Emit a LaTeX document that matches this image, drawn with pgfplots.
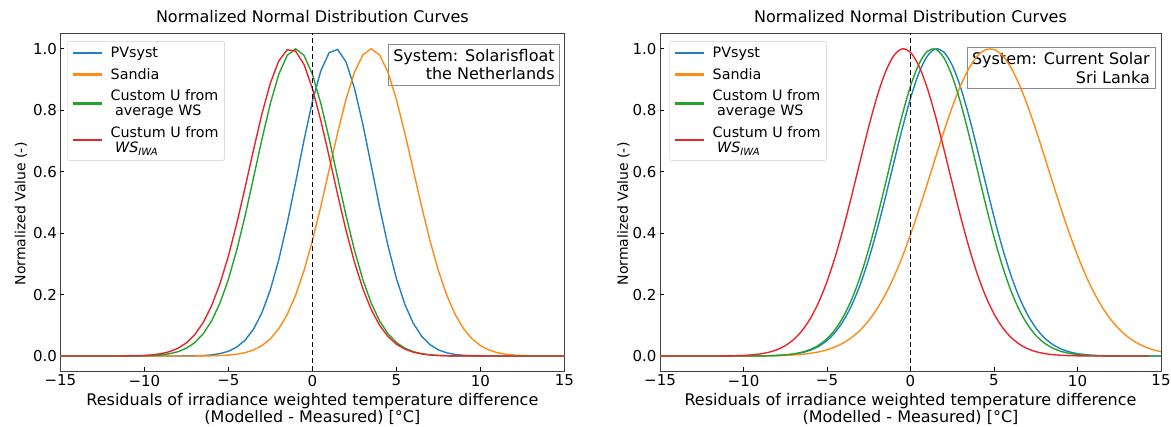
\documentclass[border=0pt]{standalone}
\usepackage{fontspec}
\setmainfont{DejaVu Sans}
\usepackage{pgfplots}
\pgfplotsset{compat=1.18}

\definecolor{cblue}{HTML}{1F80C4}
\definecolor{corange}{HTML}{FF8A14}
\definecolor{cgreen}{HTML}{22A32E}
\definecolor{cred}{HTML}{E8262A}

\pgfplotsset{
  mystyle/.style={
    scale only axis, height=338bp,
    xmin=-15, xmax=15, ymin=-0.05, ymax=1.05,
    axis line style={black!75, line width=0.8bp},
    tick align=inside, xtick pos=bottom, ytick pos=left,
    major tick length=4bp,
    tick style={black, line width=0.8bp},
    xtick={-15,-10,-5,0,5,10,15},
    xticklabels={−15,−10,−5,0,5,10,15},
    ytick={0,0.2,0.4,0.6,0.8,1.0},
    yticklabels={0.0,0.2,0.4,0.6,0.8,1.0},
    ticklabel style={font=\fontsize{15bp}{18bp}\selectfont},
    title={Normalized Normal Distribution Curves},
    title style={font=\fontsize{16bp}{19bp}\selectfont, at={(axis description cs:0.5,1)}, anchor=base, yshift=5bp},
    xlabel={Residuals of irradiance weighted temperature difference\\(Modelled - Measured) [°C]},
    xlabel style={font=\fontsize{16bp}{17bp}\selectfont, align=center, at={(axis description cs:0.5,0)}, anchor=north, yshift=-18bp},
    ylabel={Normalized Value (-)},
    legend style={draw=black!20, rounded corners=2bp, fill=white,
      font=\fontsize{14.3bp}{15.5bp}\selectfont,
      cells={anchor=west, align=left}, anchor=north west,
      inner xsep=4bp, inner ysep=4bp, row sep=5bp, column sep=6bp},
    legend image code/.code={\draw[#1, line width=2.2bp] (0bp,0bp) -- (29bp,0bp);},
  }
}

\begin{document}
\begin{tikzpicture}
\begin{axis}[mystyle, width=504bp, at={(0bp,0bp)}, anchor=south west,
  ylabel style={font=\fontsize{14bp}{17bp}\selectfont, at={(axis description cs:-0.078,0.466)}, anchor=center},
  legend style={at={(axis description cs:0.0137,0.977)}}]
\node[draw=black!45, fill=white, align=right, font=\fontsize{16bp}{18.3bp}\selectfont, anchor=north east, inner sep=5bp] at (rel axis cs:0.991,0.968) {System: Solarisfloat\\the Netherlands};
\addplot[cblue, line width=1.4bp] coordinates {(-15,0) (-7.5,0.0003) (-7,0.00075) (-6.5,0.0017) (-6,0.0038) (-5.5,0.0079) (-5,0.0155) (-4.5,0.0292) (-4,0.0520) (-3.5,0.0880) (-3,0.1416) (-2.5,0.2163) (-2,0.3137) (-1.5,0.4321) (-1,0.5652) (-0.5,0.7022) (0,0.8284) (0.5,0.9281) (1,0.9874) (1.5,0.9977) (2,0.9573) (2.5,0.8723) (3,0.7549) (3.5,0.6204) (4,0.4841) (4.5,0.3588) (5,0.2525) (5.5,0.1688) (6,0.1071) (6.5,0.0646) (7,0.0370) (7.5,0.0201) (8,0.0104) (8.5,0.0051) (9,0.0024) (9.5,0.0011) (10,0.0004) (15,0)};
\addlegendentry{PVsyst}
\addplot[corange, line width=1.4bp] coordinates {(-15,0) (-6.5,0.0003) (-6,0.0007) (-5.5,0.0015) (-5,0.0031) (-4.5,0.0060) (-4,0.0111) (-3.5,0.0198) (-3,0.0341) (-2.5,0.0561) (-2,0.0889) (-1.5,0.1353) (-1,0.1979) (-0.5,0.2780) (0,0.3753) (0.5,0.4868) (1,0.6065) (1.5,0.7261) (2,0.8353) (2.5,0.9231) (3,0.9802) (3.5,1.0) (4,0.9802) (4.5,0.9231) (5,0.8353) (5.5,0.7261) (6,0.6065) (6.5,0.4868) (7,0.3753) (7.5,0.2780) (8,0.1979) (8.5,0.1353) (9,0.0889) (9.5,0.0561) (10,0.0341) (10.5,0.0198) (11,0.0111) (11.5,0.0060) (12,0.0031) (12.5,0.0015) (13,0.0007) (13.5,0.0003) (15,0)};
\addlegendentry{Sandia}
\addplot[cgreen, line width=1.4bp] coordinates {(-15,0) (-11,0.0002) (-10.5,0.0004) (-10,0.0009) (-9.5,0.0019) (-9,0.0039) (-8.5,0.0076) (-8,0.0142) (-7.5,0.0255) (-7,0.0439) (-6.5,0.0724) (-6,0.1142) (-5.5,0.1724) (-5,0.2494) (-4.5,0.3453) (-4,0.4578) (-3.5,0.5813) (-3,0.7066) (-2.5,0.8226) (-2,0.9169) (-1.5,0.9785) (-1,1.0) (-0.5,0.9785) (0,0.9169) (0.5,0.8226) (1,0.7066) (1.5,0.5813) (2,0.4578) (2.5,0.3453) (3,0.2494) (3.5,0.1724) (4,0.1142) (4.5,0.0724) (5,0.0439) (5.5,0.0255) (6,0.0142) (6.5,0.0076) (7,0.0039) (7.5,0.0019) (8,0.0009) (8.5,0.0004) (9,0.0002) (15,0)};
\addlegendentry{Custom U from\\\hspace{4.5bp}average WS}
\addplot[cred, line width=1.4bp] coordinates {(-15,0) (-11.5,0.0002) (-11,0.0004) (-10.5,0.0010) (-10,0.0020) (-9.5,0.0040) (-9,0.0078) (-8.5,0.0143) (-8,0.0252) (-7.5,0.0428) (-7,0.0698) (-6.5,0.1090) (-6,0.1635) (-5.5,0.2355) (-5,0.3256) (-4.5,0.4320) (-4,0.5502) (-3.5,0.6725) (-3,0.7891) (-2.5,0.8887) (-2,0.9606) (-1.5,0.9967) (-1,0.9926) (-0.5,0.9489) (0,0.8706) (0.5,0.7667) (1,0.6482) (1.5,0.5259) (2,0.4096) (2.5,0.3062) (3,0.2197) (3.5,0.1513) (4,0.1000) (4.5,0.0635) (5,0.0386) (5.5,0.0226) (6,0.0127) (6.5,0.0068) (7,0.0035) (7.5,0.0018) (8,0.0008) (8.5,0.0004) (15,0)};
\addlegendentry{Custum U from\\\hspace{4.5bp}\textit{WS}\textsubscript{\textit{IWA}}}
\addplot[black, line width=1.5bp, dash pattern=on 5bp off 3bp, forget plot] coordinates {(0,-0.05) (0,1.05)};
\end{axis}

\begin{axis}[mystyle, width=501bp, at={(599.6bp,0bp)}, anchor=south west,
  ylabel style={font=\fontsize{14bp}{17bp}\selectfont, at={(axis description cs:-0.073,0.466)}, anchor=center},
  legend style={at={(axis description cs:0.0186,0.977)}}]
\node[draw=black!45, fill=white, align=right, font=\fontsize{16bp}{18.3bp}\selectfont, anchor=north east, inner sep=5bp] at (rel axis cs:0.988,0.9586) {System: Current Solar\\Sri Lanka};
\addplot[cblue, line width=1.4bp, smooth] coordinates {(-15,0) (-12,0) (-10,0.0001) (-9,0.0005) (-8.5,0.0009) (-8,0.0018) (-7.5,0.0034) (-7,0.0063) (-6.5,0.0111) (-6,0.0190) (-5.5,0.0315) (-5,0.0504) (-4.5,0.0779) (-4,0.1164) (-3.5,0.1680) (-3,0.2343) (-2.5,0.3157) (-2,0.4111) (-1.5,0.5173) (-1,0.6290) (-0.5,0.7390) (0,0.8390) (0.5,0.9204) (1,0.9756) (1.5,0.9993) (2,0.9891) (2.5,0.9460) (3,0.8742) (3.5,0.7807) (4,0.6736) (4.5,0.5617) (5,0.4525) (5.5,0.3523) (6,0.2651) (6.5,0.1927) (7,0.1353) (7.5,0.0919) (8,0.0602) (8.5,0.0382) (9,0.0234) (9.5,0.0138) (10,0.0079) (10.5,0.0044) (11,0.0023) (11.5,0.0012) (12,0.0006) (12.5,0.0003) (14,0) (15,0)};
\addlegendentry{PVsyst}
\addplot[corange, line width=1.4bp, smooth] coordinates {(-15,0) (-12,0) (-10,0.0001) (-9.5,0.0002) (-9,0.0004) (-8.5,0.0008) (-8,0.0013) (-7.5,0.0021) (-7,0.0035) (-6.5,0.0056) (-6,0.0088) (-5.5,0.0135) (-5,0.0203) (-4.5,0.0300) (-4,0.0433) (-3.5,0.0613) (-3,0.0851) (-2.5,0.1157) (-2,0.1540) (-1.5,0.2009) (-1,0.2569) (-0.5,0.3218) (0,0.3951) (0.5,0.4751) (1,0.5598) (1.5,0.6463) (2,0.7311) (2.5,0.8103) (3,0.8800) (3.5,0.9363) (4,0.9761) (4.5,0.9970) (5,0.9978) (5.5,0.9785) (6,0.9401) (6.5,0.8850) (7,0.8163) (7.5,0.7377) (8,0.6533) (8.5,0.5667) (9,0.4818) (9.5,0.4012) (10,0.3275) (10.5,0.2618) (11,0.2051) (11.5,0.1574) (12,0.1184) (12.5,0.0873) (13,0.0630) (13.5,0.0446) (14,0.0309) (14.5,0.0210) (15,0.0140)};
\addlegendentry{Sandia}
\addplot[cgreen, line width=1.4bp, smooth] coordinates {(-15,0) (-12,0) (-10,0.0001) (-9,0.0005) (-8.5,0.0010) (-8,0.0020) (-7.5,0.0038) (-7,0.0070) (-6.5,0.0124) (-6,0.0214) (-5.5,0.0354) (-5,0.0566) (-4.5,0.0874) (-4,0.1303) (-3.5,0.1873) (-3,0.2600) (-2.5,0.3482) (-2,0.4498) (-1.5,0.5608) (-1,0.6749) (-0.5,0.7837) (0,0.8783) (0.5,0.9499) (1,0.9913) (1.5,0.9984) (2,0.9704) (2.5,0.9101) (3,0.8238) (3.5,0.7196) (4,0.6065) (4.5,0.4934) (5,0.3873) (5.5,0.2934) (6,0.2145) (6.5,0.1513) (7,0.1030) (7.5,0.0677) (8,0.0429) (8.5,0.0263) (9,0.0155) (9.5,0.0088) (10,0.0049) (10.5,0.0026) (11,0.0013) (11.5,0.0007) (12,0.0003) (13.5,0) (15,0)};
\addlegendentry{Custom U from\\\hspace{4.5bp}average WS}
\addplot[cred, line width=1.4bp, smooth] coordinates {(-15,0) (-12.5,0) (-11.5,0.0002) (-11,0.0005) (-10.5,0.0010) (-10,0.0020) (-9.5,0.0038) (-9,0.0069) (-8.5,0.0121) (-8,0.0206) (-7.5,0.0338) (-7,0.0537) (-6.5,0.0823) (-6,0.1220) (-5.5,0.1748) (-5,0.2424) (-4.5,0.3247) (-4,0.4206) (-3.5,0.5268) (-3,0.6378) (-2.5,0.7466) (-2,0.8448) (-1.5,0.9242) (-1,0.9775) (-0.5,0.9996) (0,0.9882) (0.5,0.9444) (1,0.8726) (1.5,0.7795) (2,0.6732) (2.5,0.5621) (3,0.4537) (3.5,0.3541) (4,0.2671) (4.5,0.1948) (5,0.1374) (5.5,0.0937) (6,0.0617) (6.5,0.0393) (7,0.0242) (7.5,0.0144) (8,0.0083) (8.5,0.0046) (9,0.0025) (9.5,0.0013) (10,0.0007) (10.5,0.0003) (12,0) (14.3,0)};
\addlegendentry{Custum U from\\\hspace{4.5bp}\textit{WS}\textsubscript{\textit{IWA}}}
\addplot[black, line width=1.5bp, dash pattern=on 5bp off 3bp, forget plot] coordinates {(0,-0.05) (0,1.05)};
\end{axis}
\pgfresetboundingbox
\path[use as bounding box] (-60.4bp,-55.6bp) rectangle (1110.6bp,371.4bp);
\end{tikzpicture}
\end{document}
